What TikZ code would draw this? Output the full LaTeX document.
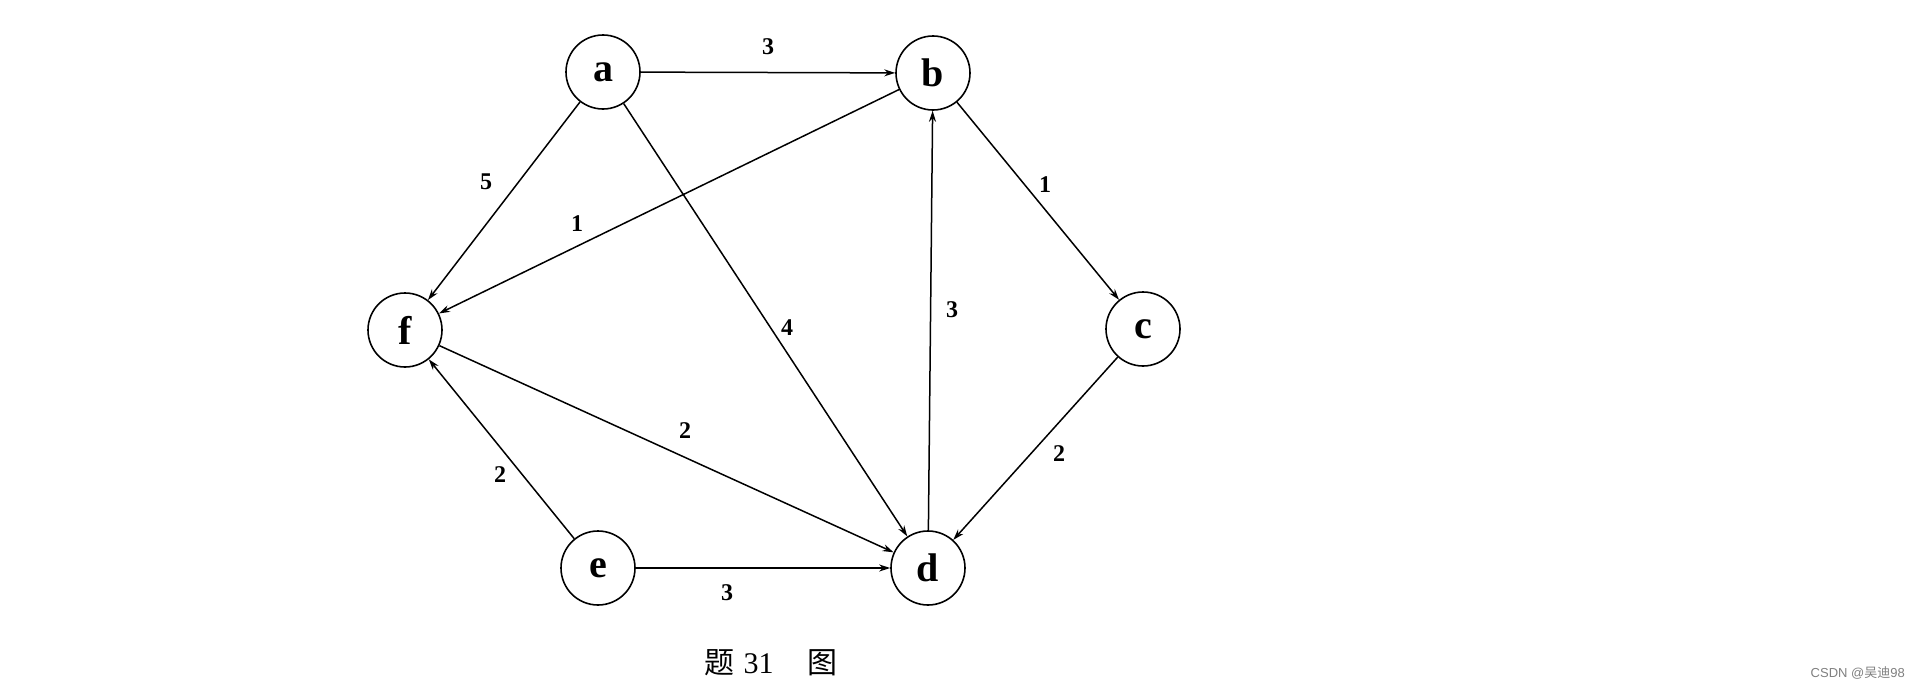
\documentclass[tikz,border=0pt]{standalone}
\usepackage{fontspec}
\setmainfont{Liberation Serif}
\newfontfamily\cjk{Noto Sans CJK SC}
\newfontfamily\wmfont{Liberation Sans}
\usetikzlibrary{arrows.meta}
\begin{document}
\begin{tikzpicture}[x=1pt,y=-1pt,
  vtx/.style={circle,draw,line width=1.6pt,minimum size=74pt,inner sep=0pt,font=\fontsize{40}{40}\selectfont\bfseries},
  edge/.style={line width=1.5pt,-{Stealth[length=11pt,width=7pt]}},
  wlab/.style={font=\fontsize{24}{24}\selectfont\bfseries,inner sep=0pt}]
\useasboundingbox[fill=white] (0,0) rectangle (1920,688);
\node[vtx] (a) at (603,72) {a};
\node[vtx] (b) at (933,73) {b};
\node[vtx] (c) at (1143,329) {c};
\node[vtx] (d) at (928,568) {d};
\node[vtx] (e) at (598,568) {e};
\node[vtx] (f) at (405,330) {f};
\draw[edge] (a) -- (b);
\draw[edge] (a) -- (f);
\draw[edge] (a) -- (d);
\draw[edge] (b) -- (f);
\draw[edge] (b) -- (c);
\draw[edge] (d) -- (b);
\draw[edge] (c) -- (d);
\draw[edge] (f) -- (d);
\draw[edge] (e) -- (f);
\draw[edge] (e) -- (d);
\node[wlab] (l1) at (768,47) {3};
\node[wlab] (l2) at (486,182) {5};
\node[wlab] (l3) at (577,224) {1};
\node[wlab] (l4) at (787,328) {4};
\node[wlab] (l5) at (952,310) {3};
\node[wlab] (l6) at (1045,185) {1};
\node[wlab] (l7) at (1059,454) {2};
\node[wlab] (l8) at (685,431) {2};
\node[wlab] (l9) at (500,475) {2};
\node[wlab] (l10) at (727,593) {3};
\node[font=\fontsize{30}{30}\selectfont,inner sep=0pt] (cap) at (771,663) {{\cjk 题}\hspace{9pt}31\hspace{34pt}{\cjk 图}};
\node[font=\fontsize{13}{13}\selectfont\wmfont,text=gray,anchor=east,inner sep=0pt] (wm) at (1905,673) {CSDN @{\cjk 吴迪}98};
\end{tikzpicture}
\end{document}
